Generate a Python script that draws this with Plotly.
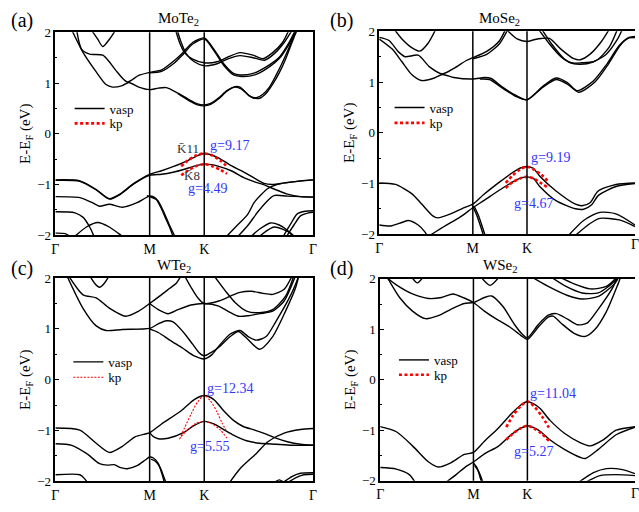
import plotly.graph_objects as go

# High-symmetry path Γ-M-K-Γ (path length in units of 2π/a)
K_TICKS = [0.0, 0.577, 0.911, 1.577]
K_LABELS = ["Γ", "M", "K", "Γ"]
E_TICKS = [-2, -1, 0, 1, 2]

# ---------------- MoTe2 : DFT bands (k, E) ----------------
mote2_bands = [
    # valence
    [(0, -0.91), (0.15, -0.93), (0.25, -1.10), (0.33, -1.28), (0.40, -1.18), (0.48, -0.98), (0.577, -0.80),
     (0.65, -0.73), (0.72, -0.65), (0.81, -0.53), (0.87, -0.43), (0.911, -0.39), (0.955, -0.42), (0.995, -0.47),
     (1.076, -0.63), (1.156, -0.76), (1.22, -0.88), (1.277, -0.98), (1.33, -1.0), (1.40, -0.97), (1.50, -0.93), (1.577, -0.91)],
    [(0, -0.92), (0.15, -0.94), (0.25, -1.11), (0.33, -1.29), (0.40, -1.19), (0.48, -0.99), (0.577, -0.82),
     (0.65, -0.80), (0.72, -0.76), (0.79, -0.70), (0.85, -0.64), (0.911, -0.60), (0.955, -0.61), (0.995, -0.64),
     (1.076, -0.73), (1.156, -0.87), (1.22, -0.95), (1.27, -1.0), (1.33, -1.08), (1.42, -1.19), (1.50, -1.24), (1.577, -1.25)],
    [(0, -1.24), (0.15, -1.26), (0.22, -1.35), (0.27, -1.43), (0.33, -1.39), (0.41, -1.45), (0.50, -1.36), (0.577, -1.23),
     (0.612, -1.27), (0.645, -1.45), (0.672, -1.65), (0.70, -1.85), (0.723, -2.05)],
    [(0.56, -1.22), (0.577, -1.24), (0.625, -1.31), (0.66, -1.52), (0.695, -1.78), (0.735, -2.05)],
    [(0, -1.54), (0.12, -1.56), (0.17, -1.65), (0.21, -1.84), (0.24, -2.05)],
    [(0.11, -2.05), (0.19, -1.84), (0.26, -1.75), (0.33, -1.84), (0.40, -2.0), (0.42, -2.05)],
    [(0, -1.96), (0.06, -1.97), (0.10, -2.05)],
    [(1.04, -2.05), (1.10, -1.85), (1.177, -1.59), (1.216, -1.36), (1.26, -1.20), (1.30, -1.08), (1.36, -1.0),
     (1.45, -0.95), (1.577, -0.91)],
    [(1.11, -2.05), (1.18, -1.80), (1.237, -1.55), (1.29, -1.35), (1.337, -1.22), (1.42, -1.23), (1.577, -1.25)],
    [(1.39, -2.05), (1.44, -1.78), (1.48, -1.58), (1.53, -1.53), (1.577, -1.52)],
    [(1.41, -2.05), (1.46, -1.80), (1.50, -1.62), (1.55, -1.56), (1.577, -1.55)],
    [(1.19, -2.05), (1.25, -1.88), (1.317, -1.76), (1.37, -1.80), (1.418, -1.90), (1.46, -2.05)],
    [(1.24, -2.05), (1.29, -1.92), (1.34, -1.84), (1.39, -1.88), (1.44, -1.96), (1.47, -2.05)],
    # conduction
    [(0.10, 2.05), (0.17, 1.60), (0.25, 1.22), (0.31, 0.97), (0.35, 0.92), (0.41, 0.95), (0.45, 1.01), (0.51, 0.92),
     (0.577, 0.87), (0.63, 0.90), (0.68, 0.91), (0.75, 0.80), (0.82, 0.67), (0.87, 0.59), (0.911, 0.57), (0.95, 0.60),
     (1.0, 0.71), (1.05, 0.85), (1.10, 0.93), (1.13, 0.92), (1.19, 0.74), (1.23, 0.71), (1.27, 0.78), (1.31, 0.92),
     (1.35, 1.15), (1.39, 1.41), (1.45, 1.86), (1.47, 2.05)],
    [(0.75, 0.79), (0.82, 0.65), (0.87, 0.57), (0.911, 0.55), (0.95, 0.58), (1.0, 0.69), (1.05, 0.84), (1.10, 0.92),
     (1.14, 0.88), (1.20, 0.72), (1.25, 0.70), (1.29, 0.80), (1.33, 0.98), (1.37, 1.20), (1.41, 1.48), (1.46, 1.90), (1.48, 2.05)],
    [(0.13, 2.05), (0.16, 1.67), (0.21, 1.57), (0.29, 1.55), (0.33, 1.42), (0.37, 1.25), (0.44, 1.02), (0.51, 1.15),
     (0.577, 1.21), (0.65, 1.26), (0.73, 1.45), (0.78, 1.60), (0.84, 1.80), (0.911, 1.89), (0.97, 1.67), (1.03, 1.38),
     (1.09, 1.19), (1.13, 1.16), (1.21, 1.19), (1.29, 1.32), (1.37, 1.51), (1.43, 1.80), (1.47, 2.05)],
    [(0.577, 1.20), (0.65, 1.23), (0.73, 1.40), (0.78, 1.56), (0.84, 1.77), (0.911, 1.87), (0.97, 1.64), (1.03, 1.35),
     (1.09, 1.16), (1.14, 1.13), (1.22, 1.16), (1.30, 1.30), (1.38, 1.52), (1.44, 1.82), (1.48, 2.05)],
    [(0.22, 2.05), (0.26, 1.86), (0.29, 1.72), (0.33, 1.86), (0.37, 2.05)],
    [(0.735, 2.05), (0.76, 1.80), (0.79, 1.60), (0.84, 1.47), (0.911, 1.40), (0.99, 1.42), (1.06, 1.52), (1.13, 1.60),
     (1.21, 1.55), (1.27, 1.48), (1.33, 1.60), (1.39, 1.80), (1.43, 2.05)],
    [(0.745, 2.05), (0.77, 1.80), (0.80, 1.58), (0.85, 1.42), (0.911, 1.34), (0.99, 1.38), (1.06, 1.48), (1.13, 1.54),
     (1.21, 1.50), (1.28, 1.45), (1.34, 1.58), (1.40, 1.80), (1.45, 2.05)],
]
mote2_kp = [
    [(0.77, -0.64), (0.81, -0.53), (0.86, -0.43), (0.911, -0.39), (0.96, -0.43), (1.01, -0.53), (1.055, -0.66)],
    [(0.77, -0.82), (0.81, -0.73), (0.86, -0.64), (0.911, -0.60), (0.96, -0.64), (1.01, -0.71), (1.05, -0.79)],
]
mote2_g = ["g=9.17", "g=4.49"]

# ---------------- MoSe2 ----------------
mose2_bands = [
    [(0, -0.99), (0.10, -1.02), (0.20, -1.20), (0.26, -1.40), (0.33, -1.64), (0.36, -1.68), (0.44, -1.60), (0.52, -1.48),
     (0.577, -1.41), (0.644, -1.22), (0.747, -0.96), (0.829, -0.77), (0.875, -0.69), (0.911, -0.67), (0.95, -0.70),
     (0.99, -0.86), (1.09, -1.15), (1.21, -1.41), (1.25, -1.44), (1.30, -1.38), (1.35, -1.15), (1.46, -1.02), (1.577, -0.99)],
    [(0.30, -2.05), (0.40, -1.85), (0.50, -1.66), (0.577, -1.48), (0.644, -1.34), (0.747, -1.12), (0.829, -0.96),
     (0.875, -0.89), (0.911, -0.87), (0.95, -0.90), (0.99, -1.06), (1.09, -1.34), (1.21, -1.50), (1.26, -1.51),
     (1.31, -1.42), (1.35, -1.24), (1.46, -1.06), (1.577, -1.0)],
    [(0.577, -1.45), (0.60, -1.62), (0.625, -1.85), (0.645, -2.05)],
    [(0.587, -1.46), (0.61, -1.62), (0.635, -1.85), (0.655, -2.05)],
    [(0, -1.82), (0.07, -1.84), (0.14, -1.77), (0.18, -1.73), (0.24, -1.82), (0.28, -1.95), (0.30, -2.05)],
    [(1.16, -2.05), (1.26, -1.73), (1.36, -1.57), (1.46, -1.60), (1.577, -1.82)],
    [(1.20, -2.05), (1.30, -1.79), (1.36, -1.69), (1.48, -1.72), (1.577, -1.85)],
    # conduction
    [(0, 1.88), (0.06, 1.82), (0.12, 1.59), (0.16, 1.50), (0.24, 1.53), (0.31, 1.30), (0.39, 1.16), (0.46, 1.27),
     (0.54, 1.43), (0.577, 1.48), (0.66, 1.60), (0.74, 1.81), (0.78, 2.05)],
    [(0.577, 1.46), (0.66, 1.54), (0.74, 1.75), (0.795, 2.05)],
    [(0, 1.85), (0.08, 1.65), (0.14, 1.40), (0.20, 1.15), (0.26, 1.03), (0.34, 1.08), (0.39, 1.15), (0.46, 1.09),
     (0.577, 1.06), (0.65, 1.09), (0.69, 1.07), (0.76, 0.90), (0.84, 0.74), (0.911, 0.65), (1.01, 0.92), (1.09, 1.08),
     (1.16, 0.99), (1.22, 0.83), (1.32, 1.02), (1.40, 1.34), (1.48, 1.72), (1.54, 1.88), (1.577, 1.90)],
    [(0.62, 1.06), (0.68, 1.05), (0.76, 0.88), (0.84, 0.72), (0.911, 0.65), (1.01, 0.90), (1.09, 1.05), (1.16, 0.96),
     (1.23, 0.80), (1.33, 1.00), (1.41, 1.34), (1.49, 1.74), (1.54, 1.87), (1.577, 1.88)],
    [(0.09, 2.05), (0.14, 1.85), (0.20, 1.68), (0.25, 1.61), (0.30, 1.76), (0.35, 2.05)],
    [(0.78, 2.05), (0.85, 1.85), (0.911, 1.80), (0.96, 1.84), (1.0, 1.86), (1.05, 1.86), (1.12, 1.65), (1.20, 1.46),
     (1.24, 1.44), (1.30, 1.55), (1.37, 1.80), (1.42, 2.05)],
    [(0.98, 2.05), (1.05, 1.75), (1.12, 1.50), (1.18, 1.38), (1.25, 1.38), (1.32, 1.40), (1.40, 1.55), (1.47, 1.85), (1.50, 2.05)],
    [(1.00, 2.05), (1.07, 1.72), (1.14, 1.46), (1.20, 1.36), (1.28, 1.36), (1.35, 1.45), (1.42, 1.70), (1.47, 2.05)],
]
mose2_kp = [
    [(0.78, -0.99), (0.82, -0.85), (0.87, -0.72), (0.911, -0.67), (0.95, -0.72), (1.00, -0.83), (1.044, -0.97)],
    [(0.78, -1.09), (0.82, -0.98), (0.87, -0.90), (0.911, -0.87), (0.95, -0.90), (0.99, -0.98), (1.035, -1.07)],
]
mose2_g = ["g=9.19", "g=4.67"]

# ---------------- WTe2 ----------------
wte2_bands = [
    [(0, -0.95), (0.15, -0.99), (0.25, -1.25), (0.33, -1.43), (0.41, -1.31), (0.49, -1.12), (0.577, -1.04),
     (0.65, -0.87), (0.77, -0.61), (0.85, -0.39), (0.911, -0.31), (0.97, -0.39), (1.03, -0.61), (1.09, -0.80),
     (1.15, -0.92), (1.22, -0.99), (1.29, -1.07), (1.35, -1.15), (1.42, -1.22), (1.50, -1.27), (1.577, -1.29)],
    [(0.577, -1.04), (0.60, -1.12), (0.63, -1.16), (0.69, -1.15), (0.79, -1.03), (0.85, -0.90), (0.911, -0.82),
     (0.97, -0.87), (1.03, -0.98), (1.09, -1.09), (1.17, -1.20), (1.25, -1.25), (1.35, -1.27), (1.45, -1.29), (1.577, -1.29)],
    [(1.06, -2.05), (1.13, -1.75), (1.23, -1.45), (1.30, -1.22), (1.40, -1.05), (1.50, -0.98), (1.577, -0.96)],
    [(0, -1.26), (0.10, -1.29), (0.19, -1.45), (0.27, -1.65), (0.32, -1.68), (0.36, -1.67), (0.40, -1.73), (0.44, -1.75),
     (0.50, -1.69), (0.55, -1.58), (0.577, -1.52), (0.60, -1.54), (0.63, -1.65), (0.65, -1.83), (0.67, -2.05)],
    [(0.585, -1.56), (0.61, -1.60), (0.64, -1.72), (0.66, -1.88), (0.68, -2.05)],
    [(0, -1.87), (0.15, -1.87), (0.18, -1.95), (0.20, -2.05)],
    [(1.38, -2.05), (1.45, -1.90), (1.50, -1.84), (1.577, -1.83)],
    [(1.41, -2.05), (1.47, -1.93), (1.52, -1.87), (1.577, -1.86)],
    [(1.33, -2.05), (1.37, -1.97), (1.41, -2.05)],
    # conduction
    [(0.08, 2.05), (0.17, 1.67), (0.25, 1.61), (0.33, 1.41), (0.43, 1.25), (0.51, 1.35), (0.577, 1.50), (0.64, 1.65),
     (0.70, 1.80), (0.74, 1.90), (0.77, 2.05)],
    [(0.07, 2.05), (0.17, 1.40), (0.25, 1.06), (0.31, 0.97), (0.41, 0.99), (0.577, 1.01), (0.63, 1.10), (0.68, 1.16),
     (0.72, 1.14), (0.78, 0.95), (0.84, 0.70), (0.88, 0.53), (0.911, 0.47), (0.96, 0.55), (1.00, 0.64), (1.07, 0.85),
     (1.12, 0.95), (1.17, 0.82), (1.25, 0.60), (1.33, 0.85), (1.41, 1.36), (1.47, 1.81), (1.49, 2.05)],
    [(0.577, 1.0), (0.63, 0.93), (0.70, 0.78), (0.78, 0.62), (0.85, 0.47), (0.911, 0.41), (0.96, 0.50), (1.0, 0.66),
     (1.07, 0.90), (1.13, 0.97), (1.18, 0.85), (1.23, 0.78), (1.29, 0.85), (1.35, 1.15), (1.43, 1.60), (1.47, 1.88), (1.49, 2.05)],
    [(0.21, 2.05), (0.24, 1.90), (0.27, 1.82), (0.30, 1.90), (0.33, 2.05)],
    [(0.577, 1.50), (0.63, 1.38), (0.69, 1.30), (0.75, 1.38), (0.83, 1.47), (0.911, 1.50), (1.0, 1.45), (1.06, 1.34),
     (1.12, 1.25), (1.18, 1.26), (1.25, 1.30), (1.33, 1.35), (1.40, 1.55), (1.47, 2.05)],
    [(0.79, 2.05), (0.83, 1.82), (0.87, 1.62), (0.911, 1.50), (1.0, 1.55), (1.08, 1.66), (1.13, 1.72), (1.20, 1.74),
     (1.27, 1.70), (1.33, 1.68), (1.40, 1.78), (1.45, 2.05)],
    [(0.97, 2.05), (1.04, 1.75), (1.10, 1.52), (1.17, 1.35), (1.25, 1.32), (1.33, 1.38), (1.41, 1.65), (1.46, 2.05)],
]
wte2_kp = [
    [(0.76, -1.17), (0.79, -0.95), (0.83, -0.68), (0.87, -0.44), (0.911, -0.31), (0.95, -0.42), (0.99, -0.64),
     (1.02, -0.85), (1.05, -1.03)],
    [(0.77, -1.12), (0.81, -0.98), (0.86, -0.86), (0.911, -0.82), (0.96, -0.87), (1.01, -0.99), (1.05, -1.15)],
]
wte2_g = ["g=12.34", "g=5.55"]

# ---------------- WSe2 ----------------
wse2_bands = [
    [(0, -0.93), (0.10, -1.03), (0.20, -1.31), (0.30, -1.63), (0.36, -1.73), (0.44, -1.64), (0.52, -1.48), (0.577, -1.44),
     (0.645, -1.22), (0.73, -0.96), (0.81, -0.68), (0.87, -0.50), (0.911, -0.43), (0.95, -0.48), (0.99, -0.57),
     (1.05, -0.80), (1.14, -1.06), (1.24, -1.25), (1.30, -1.31), (1.38, -1.19), (1.46, -1.00), (1.577, -0.93)],
    [(0.40, -2.05), (0.47, -1.88), (0.53, -1.72), (0.577, -1.63), (0.645, -1.47), (0.73, -1.32), (0.81, -1.09),
     (0.87, -0.96), (0.911, -0.91), (0.95, -0.95), (0.99, -1.02), (1.05, -1.19), (1.14, -1.38), (1.24, -1.54),
     (1.27, -1.56), (1.35, -1.38), (1.46, -1.09), (1.577, -0.94)],
    [(0.577, -1.65), (0.60, -1.75), (0.62, -1.95), (0.63, -2.05)],
    [(0.585, -1.70), (0.61, -1.82), (0.63, -1.98), (0.64, -2.05)],
    [(0, -1.74), (0.10, -1.77), (0.18, -1.88), (0.22, -2.05)],
    [(1.22, -2.05), (1.32, -1.84), (1.40, -1.76), (1.50, -1.78), (1.577, -1.86)],
    [(1.26, -2.05), (1.36, -1.90), (1.46, -1.88), (1.577, -1.90)],
    # conduction
    [(0.04, 2.05), (0.12, 1.63), (0.20, 1.36), (0.28, 1.21), (0.36, 1.27), (0.44, 1.40), (0.52, 1.51), (0.577, 1.53),
     (0.645, 1.63), (0.69, 1.66), (0.76, 1.45), (0.83, 1.10), (0.88, 0.90), (0.911, 0.83), (0.98, 1.10), (1.04, 1.28),
     (1.09, 1.31), (1.16, 1.20), (1.22, 1.09), (1.28, 1.12), (1.35, 1.40), (1.44, 1.83), (1.47, 2.05)],
    [(0.03, 2.05), (0.10, 1.88), (0.20, 1.70), (0.30, 1.61), (0.38, 1.63), (0.45, 1.70), (0.52, 1.62), (0.577, 1.53),
     (0.645, 1.36), (0.72, 1.20), (0.80, 1.05), (0.87, 0.88), (0.911, 0.80), (0.98, 1.05), (1.04, 1.24), (1.07, 1.26),
     (1.12, 1.12), (1.20, 0.92), (1.27, 0.86), (1.33, 1.00), (1.40, 1.35), (1.47, 1.88), (1.49, 2.05)],
    [(0.19, 2.05), (0.23, 1.92), (0.27, 2.05)],
    [(0.62, 2.05), (0.68, 1.87), (0.74, 2.05)],
    [(0.93, 2.05), (1.04, 1.85), (1.16, 1.67), (1.25, 1.60), (1.35, 1.65), (1.45, 1.90), (1.48, 2.05)],
    [(1.05, 2.05), (1.15, 1.85), (1.25, 1.72), (1.35, 1.72), (1.45, 1.95), (1.47, 2.05)],
    [(1.10, 2.05), (1.20, 1.90), (1.30, 1.80), (1.40, 1.85), (1.47, 2.05)],
]
wse2_kp = [
    [(0.78, -0.94), (0.82, -0.72), (0.87, -0.52), (0.911, -0.43), (0.95, -0.52), (1.00, -0.72), (1.044, -0.95)],
    [(0.78, -1.19), (0.82, -1.07), (0.87, -0.96), (0.911, -0.91), (0.95, -0.96), (1.00, -1.07), (1.044, -1.21)],
]
wse2_g = ["g=11.04", "g=5.27"]

# ---------------- layout of the four panels ----------------
panels = [
    dict(bands=mote2_bands, kp=mote2_kp, g=mote2_g, title="MoTe<sub>2</sub>", tag="(a)",
         xdom=[0.0814, 0.4898], ydom=[0.541, 0.949], left=True, thin_kp=False,
         g_pos=[(0.937, -0.24), (0.80, -1.08)], title_x=177, tag_x=18, tag_y=14, title_y=12,
         leg_x=0.104, leg_y=[0.826, 0.796], gamma_y=None),
    dict(bands=mose2_bands, kp=mose2_kp, g=mose2_g, title="MoSe<sub>2</sub>", tag="(b)",
         xdom=[0.5947, 1.0], ydom=[0.543, 0.951], left=False, thin_kp=False,
         g_pos=[(0.923, -0.49), (0.82, -1.39)], title_x=502, tag_x=342, tag_y=14, title_y=12,
         leg_x=0.611, leg_y=[0.828, 0.797], gamma_y=245),
    dict(bands=wte2_bands, kp=wte2_kp, g=wte2_g, title="WTe<sub>2</sub>", tag="(c)",
         xdom=[0.0814, 0.4898], ydom=[0.0455, 0.4545], left=True, thin_kp=True,
         g_pos=[(0.915, -0.17), (0.814, -1.31)], title_x=172, tag_x=18, tag_y=269, title_y=267,
         leg_x=0.102, leg_y=[0.316, 0.285], gamma_y=None),
    dict(bands=wse2_bands, kp=wse2_kp, g=wse2_g, title="WSe<sub>2</sub>", tag="(d)",
         xdom=[0.5962, 1.0], ydom=[0.0469, 0.4531], left=False, thin_kp=False,
         g_pos=[(0.916, -0.28), (0.815, -1.43)], title_x=502, tag_x=342, tag_y=269, title_y=267,
         leg_x=0.618, leg_y=[0.320, 0.290], gamma_y=501),
]

FONT = "Liberation Serif"
W, H = 639, 512
fig = go.Figure()
annotations = []
shapes = []
layout_axes = {}
n_leg = 0

for i, p in enumerate(panels, start=1):
    sfx = "" if i == 1 else str(i)
    xa, ya = "x" + sfx, "y" + sfx
    # one legend box per entry so that the two rows sit close together
    leg_names = []
    for ly in p["leg_y"]:
        n_leg += 1
        name = "legend" if n_leg == 1 else "legend%d" % n_leg
        leg_names.append(name)
        layout_axes[name] = dict(x=p["leg_x"], y=ly, xanchor="left", yanchor="top",
                                 bgcolor="rgba(0,0,0,0)", itemwidth=30,
                                 font=dict(size=13, family=FONT, color="black"))
    for j, band in enumerate(p["bands"]):
        fig.add_trace(go.Scatter(
            x=[pt[0] for pt in band], y=[pt[1] for pt in band], mode="lines",
            line=dict(color="black", width=1.4, shape="spline", smoothing=0.7),
            xaxis=xa, yaxis=ya, hoverinfo="skip",
            name="vasp", showlegend=(j == 0), legend=leg_names[0]))
    kp_line = (dict(color="red", width=1.1, dash="2px,1.5px") if p["thin_kp"]
               else dict(color="red", width=2.6, dash="3px,2.5px"))
    for j, curve in enumerate(p["kp"]):
        fig.add_trace(go.Scatter(
            x=[pt[0] for pt in curve], y=[pt[1] for pt in curve], mode="lines",
            line=dict(kp_line, shape="spline", smoothing=0.8),
            xaxis=xa, yaxis=ya, hoverinfo="skip",
            name="kp", showlegend=(j == 0), legend=leg_names[1]))

    # vertical lines at M and K
    for kv in K_TICKS[1:3]:
        shapes.append(dict(type="line", xref=xa, yref=ya + " domain", x0=kv, x1=kv, y0=0, y1=1,
                           line=dict(color="black", width=1.5)))

    layout_axes["xaxis" + sfx] = dict(
        domain=p["xdom"], anchor=ya, range=[0, 1.577], tickvals=K_TICKS, ticktext=K_LABELS,
        ticks="", showgrid=False, zeroline=False, showline=True, linecolor="black",
        linewidth=1.5, mirror=True, tickfont=dict(size=14, family=FONT, color="black"))
    layout_axes["yaxis" + sfx] = dict(
        domain=p["ydom"], anchor=xa, range=[-2, 2], tickvals=E_TICKS,
        ticks="inside", ticklen=4, tickwidth=1, tickcolor="black",
        minor=dict(ticks="inside", ticklen=2, dtick=0.5, tickcolor="black"),
        showgrid=False, zeroline=False, showline=True, linecolor="black",
        linewidth=1.5, mirror=p["left"], tickfont=dict(size=13, family=FONT, color="black"),
        title=dict(text="E-E<sub>F</sub> (eV)", standoff=3,
                   font=dict(size=15, family=FONT, color="black")))

    # labels: g-factors, panel tag, material name
    for txt, (gx, gy) in zip(p["g"], p["g_pos"]):
        annotations.append(dict(x=gx, y=gy, xref=xa, yref=ya, text=txt, showarrow=False,
                                xanchor="left", yanchor="middle",
                                font=dict(size=14, family=FONT, color="#3535ff")))
    annotations.append(dict(x=p["tag_x"] / W, y=1 - p["tag_y"] / H, xref="paper", yref="paper",
                            text=p["tag"], showarrow=False, xanchor="center", yanchor="middle",
                            font=dict(size=20, family=FONT, color="black")))
    annotations.append(dict(x=p["title_x"] / W, y=1 - p["title_y"] / H, xref="paper", yref="paper",
                            text=p["title"], showarrow=False, xanchor="center", yanchor="middle",
                            font=dict(size=15, family=FONT, color="black")))
    if p["gamma_y"] is not None:
        # closing Γ label of the path, falling on the right edge of the figure
        annotations.append(dict(x=1.0, y=1 - p["gamma_y"] / H, xref="paper", yref="paper",
                                text=K_LABELS[-1], showarrow=False, xanchor="center", yanchor="middle",
                                font=dict(size=14, family=FONT, color="black")))

# band labels at K for MoTe2
annotations.append(dict(x=0.894, y=-0.30, xref="x", yref="y", text="K\u030411", showarrow=False,
                        xanchor="right", yanchor="middle", font=dict(size=13, family=FONT, color="#333333")))
annotations.append(dict(x=0.775, y=-0.83, xref="x", yref="y", text="K\u03048", showarrow=False,
                        xanchor="left", yanchor="middle", font=dict(size=13, family=FONT, color="#333333")))

fig.update_layout(
    width=W, height=H, margin=dict(l=0, r=0, t=0, b=0),
    paper_bgcolor="white", plot_bgcolor="white",
    font=dict(family=FONT, color="black"),
    shapes=shapes, annotations=annotations, **layout_axes,
)

fig.write_html("out.html")
